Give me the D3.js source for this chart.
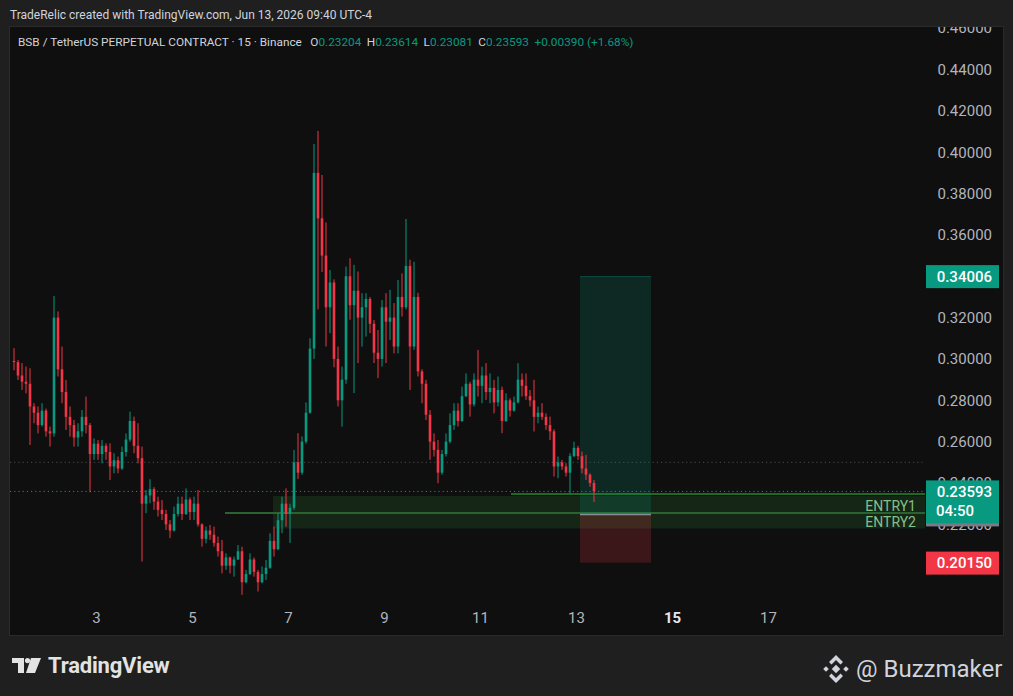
<!DOCTYPE html>
<html>
<head>
<meta charset="utf-8">
<script src="https://cdn.jsdelivr.net/npm/d3@7"></script>
<style>
    html, body { margin: 0; padding: 0; background: #1f1f1f; }
    svg { display: block; font-family: Roboto, "Liberation Sans", sans-serif; }
</style>
</head>
<body>
<svg id="chart" width="1013" height="696"></svg>
<script>
// 2 hour candles, Jun 1 06:00 -> Jun 13 08:00
const opens = [
    0.2990, 0.2985, 0.2920, 0.2890, 0.2880, 0.2770, 0.2740, 0.2680, 0.2750, 0.2650,
    0.2640, 0.3200, 0.2950, 0.2840, 0.2720, 0.2680, 0.2620, 0.2650, 0.2720, 0.2680,
    0.2540, 0.2590, 0.2540, 0.2580, 0.2550, 0.2480, 0.2510, 0.2470, 0.2550, 0.2610,
    0.2700, 0.2580, 0.2520, 0.2300, 0.2340, 0.2370, 0.2310, 0.2270, 0.2250, 0.2200,
    0.2170, 0.2250, 0.2300, 0.2250, 0.2320, 0.2260, 0.2300, 0.2200, 0.2130, 0.2170,
    0.2150, 0.2110, 0.2070, 0.2000, 0.2040, 0.2000, 0.2030, 0.2070, 0.1920, 0.1960,
    0.2030, 0.1970, 0.1920, 0.1960, 0.1990, 0.2120, 0.2080, 0.2220, 0.2300, 0.2250,
    0.2280, 0.2500, 0.2450, 0.2600, 0.2740, 0.3050, 0.3900, 0.3680, 0.3500, 0.3250,
    0.3370, 0.3000, 0.2800, 0.2900, 0.3400, 0.3260, 0.3330, 0.3200, 0.3250, 0.3290,
    0.3170, 0.3030, 0.3000, 0.3250, 0.3180, 0.3200, 0.3060, 0.3300, 0.3250, 0.3450,
    0.3060, 0.3300, 0.2940, 0.2880, 0.2730, 0.2600, 0.2560, 0.2450, 0.2540, 0.2600,
    0.2680, 0.2750, 0.2700, 0.2820, 0.2880, 0.2780, 0.2900, 0.2870, 0.2920, 0.2840,
    0.2860, 0.2790, 0.2850, 0.2700, 0.2800, 0.2750, 0.2790, 0.2900, 0.2870, 0.2820,
    0.2800, 0.2720, 0.2740, 0.2720, 0.2680, 0.2650, 0.2480, 0.2500, 0.2480, 0.2450,
    0.2530, 0.2570, 0.2530, 0.2470, 0.2440, 0.2400
]
const highs = [
    0.3052, 0.2995, 0.2980, 0.2963, 0.2955, 0.2786, 0.2770, 0.2786, 0.2760, 0.2673,
    0.3305, 0.3230, 0.3060, 0.2898, 0.2770, 0.2705, 0.2689, 0.2753, 0.2818, 0.2690,
    0.2616, 0.2608, 0.2608, 0.2592, 0.2592, 0.2544, 0.2528, 0.2576, 0.2640, 0.2745,
    0.2721, 0.2689, 0.2576, 0.2366, 0.2418, 0.2380, 0.2334, 0.2318, 0.2270, 0.2221,
    0.2286, 0.2334, 0.2334, 0.2374, 0.2330, 0.2334, 0.2366, 0.2205, 0.2189, 0.2197,
    0.2189, 0.2141, 0.2125, 0.2060, 0.2044, 0.2044, 0.2100, 0.2092, 0.1980, 0.2060,
    0.2040, 0.1980, 0.1996, 0.2028, 0.2157, 0.2189, 0.2254, 0.2334, 0.2374, 0.2300,
    0.2560, 0.2641, 0.2625, 0.2790, 0.3100, 0.4040, 0.4103, 0.3890, 0.3660, 0.3430,
    0.3385, 0.3060, 0.2963, 0.3447, 0.3487, 0.3455, 0.3423, 0.3318, 0.3318, 0.3300,
    0.3188, 0.3140, 0.3285, 0.3318, 0.3334, 0.3270, 0.3382, 0.3414, 0.3677, 0.3480,
    0.3470, 0.3320, 0.2950, 0.2899, 0.2753, 0.2640, 0.2608, 0.2560, 0.2640, 0.2737,
    0.2786, 0.2786, 0.2866, 0.2930, 0.2890, 0.2930, 0.3044, 0.2963, 0.2980, 0.2930,
    0.2899, 0.2915, 0.2866, 0.2834, 0.2810, 0.2818, 0.2980, 0.2930, 0.2930, 0.2850,
    0.2899, 0.2770, 0.2786, 0.2737, 0.2721, 0.2660, 0.2528, 0.2512, 0.2496, 0.2544,
    0.2600, 0.2580, 0.2552, 0.2536, 0.2447, 0.2415
]
const lows = [
    0.2945, 0.2898, 0.2850, 0.2834, 0.2584, 0.2689, 0.2640, 0.2673, 0.2624, 0.2576,
    0.2624, 0.2915, 0.2786, 0.2656, 0.2624, 0.2576, 0.2576, 0.2624, 0.2640, 0.2355,
    0.2512, 0.2512, 0.2495, 0.2512, 0.2415, 0.2447, 0.2447, 0.2463, 0.2528, 0.2600,
    0.2544, 0.2495, 0.2020, 0.2254, 0.2302, 0.2270, 0.2238, 0.2221, 0.2173, 0.2133,
    0.2165, 0.2238, 0.2221, 0.2245, 0.2221, 0.2221, 0.2189, 0.2092, 0.2108, 0.2125,
    0.2092, 0.2044, 0.1963, 0.1980, 0.1963, 0.1947, 0.2028, 0.1859, 0.1915, 0.1955,
    0.1947, 0.1875, 0.1915, 0.1931, 0.1985, 0.2044, 0.2075, 0.2157, 0.2189, 0.2110,
    0.2270, 0.2420, 0.2440, 0.2590, 0.2735, 0.3000, 0.3240, 0.3420, 0.3060, 0.3125,
    0.2960, 0.2770, 0.2673, 0.2880, 0.3190, 0.2835, 0.2980, 0.3060, 0.3108, 0.3125,
    0.2980, 0.2907, 0.2963, 0.2980, 0.3092, 0.3027, 0.3027, 0.3205, 0.3240, 0.2850,
    0.3044, 0.2915, 0.2786, 0.2705, 0.2512, 0.2528, 0.2399, 0.2440, 0.2528, 0.2592,
    0.2657, 0.2673, 0.2695, 0.2815, 0.2721, 0.2770, 0.2818, 0.2786, 0.2802, 0.2786,
    0.2737, 0.2770, 0.2641, 0.2695, 0.2721, 0.2745, 0.2785, 0.2818, 0.2802, 0.2770,
    0.2649, 0.2689, 0.2705, 0.2657, 0.2608, 0.2431, 0.2423, 0.2463, 0.2431, 0.2350,
    0.2525, 0.2512, 0.2447, 0.2415, 0.2382, 0.2308
]
const closes = [
    0.2985, 0.2920, 0.2890, 0.2880, 0.2770, 0.2740, 0.2680, 0.2750, 0.2650, 0.2640,
    0.3200, 0.2950, 0.2840, 0.2720, 0.2680, 0.2620, 0.2650, 0.2720, 0.2680, 0.2540,
    0.2590, 0.2540, 0.2580, 0.2550, 0.2480, 0.2510, 0.2470, 0.2550, 0.2610, 0.2700,
    0.2580, 0.2520, 0.2300, 0.2340, 0.2370, 0.2310, 0.2270, 0.2250, 0.2200, 0.2170,
    0.2250, 0.2300, 0.2250, 0.2320, 0.2260, 0.2300, 0.2200, 0.2130, 0.2170, 0.2150,
    0.2110, 0.2070, 0.2000, 0.2040, 0.2000, 0.2030, 0.2070, 0.1920, 0.1960, 0.2030,
    0.1970, 0.1920, 0.1960, 0.1990, 0.2120, 0.2080, 0.2220, 0.2300, 0.2250, 0.2280,
    0.2500, 0.2450, 0.2600, 0.2740, 0.3050, 0.3900, 0.3680, 0.3500, 0.3250, 0.3370,
    0.3000, 0.2800, 0.2900, 0.3400, 0.3260, 0.3330, 0.3200, 0.3250, 0.3290, 0.3170,
    0.3030, 0.3000, 0.3250, 0.3180, 0.3200, 0.3060, 0.3300, 0.3250, 0.3450, 0.3060,
    0.3300, 0.2940, 0.2880, 0.2730, 0.2600, 0.2560, 0.2450, 0.2540, 0.2600, 0.2680,
    0.2750, 0.2700, 0.2820, 0.2880, 0.2780, 0.2900, 0.2870, 0.2920, 0.2840, 0.2860,
    0.2790, 0.2850, 0.2700, 0.2800, 0.2750, 0.2790, 0.2900, 0.2870, 0.2820, 0.2800,
    0.2720, 0.2740, 0.2720, 0.2680, 0.2650, 0.2480, 0.2500, 0.2480, 0.2450, 0.2530,
    0.2570, 0.2530, 0.2470, 0.2440, 0.2400, 0.23593
]

const firstCandle = Date.UTC(2026, 5, 1, 7)   // centre of first 2h bar
const candleMs = 2 * 3600 * 1000

const dayTicks = [3, 5, 7, 9, 11, 13, 15, 17]
const boldDay = 15
const priceTicks = [0.22, 0.24, 0.26, 0.28, 0.30, 0.32, 0.34, 0.36, 0.38, 0.40, 0.42, 0.44, 0.46]

const lastPrice = 0.23593
const countdown = '04:50'
const dottedLevel = 0.25

const position = {
    start: Date.UTC(2026, 5, 13, 2),
    end: Date.UTC(2026, 5, 14, 13, 30),
    entry: 0.2248,
    target: 0.34006,
    stop: 0.20150
}

const zoneNames = ['ENTRY1', 'ENTRY2']
const zoneTops = [0.2337, 0.2255]
const zoneBottoms = [0.2255, 0.2180]
const zoneStart = Date.UTC(2026, 5, 6, 16, 30)

const linePrices = [0.2255, 0.2347]
const lineStarts = [Date.UTC(2026, 5, 5, 16, 30), Date.UTC(2026, 5, 11, 15, 30)]

const colours = {
    page: '#1f1f1f',
    panel: '#0f0f0f',
    border: '#2a2a2a',
    text: '#d1d4dc',
    axisText: '#b2b5be',
    up: '#089981',
    down: '#f23645',
    zone: 'rgba(46, 125, 50, 0.22)',
    zoneText: '#86bf88',
    entryLine: '#2a632d',
    brightLine: '#1f6a22'
}

const svg = d3.select('#chart')
const panel = { left: 10, top: 27, right: 1003, bottom: 635 }
const plotRight = 925

const x = d3.scaleUtc()
    .domain([Date.UTC(2026, 5, 1), Date.UTC(2026, 5, 20)])
    .range([0, 912])

const y = d3.scaleLinear()
    .domain([0.20, 0.46])
    .range([565.7, 28.15])

// backgrounds
svg.append('rect').attr('width', 1013).attr('height', 696).attr('fill', colours.page)
svg.append('rect')
    .attr('x', panel.left - 0.5).attr('y', panel.top - 0.5)
    .attr('width', panel.right - panel.left + 1).attr('height', panel.bottom - panel.top + 1)
    .attr('fill', colours.panel)
    .attr('stroke', colours.border)

const defs = svg.append('defs')
defs.append('clipPath').attr('id', 'plot')
    .append('rect')
    .attr('x', panel.left).attr('y', panel.top)
    .attr('width', plotRight - panel.left).attr('height', 600 - panel.top)
defs.append('clipPath').attr('id', 'scale')
    .append('rect')
    .attr('x', plotRight).attr('y', panel.top)
    .attr('width', panel.right - plotRight).attr('height', 600 - panel.top)

const plot = svg.append('g').attr('clip-path', 'url(#plot)')

// dotted level
plot.append('line')
    .attr('x1', panel.left).attr('x2', plotRight)
    .attr('y1', y(dottedLevel)).attr('y2', y(dottedLevel))
    .attr('stroke', '#4a4a4a')
    .attr('stroke-dasharray', '1.2,3')

// entry zones
zoneNames.forEach((name, i) => {
    plot.append('rect')
        .attr('x', x(zoneStart))
        .attr('y', y(zoneTops[i]))
        .attr('width', plotRight - x(zoneStart))
        .attr('height', y(zoneBottoms[i]) - y(zoneTops[i]))
        .attr('fill', colours.zone)
})

linePrices.forEach((price, i) => {
    plot.append('line')
        .attr('x1', x(lineStarts[i])).attr('x2', plotRight)
        .attr('y1', y(price)).attr('y2', y(price))
        .attr('stroke', i === 0 ? colours.entryLine : colours.brightLine)
        .attr('stroke-width', 2)
})

// long position tool
const px0 = x(position.start)
const px1 = x(position.end)
plot.append('rect')
    .attr('x', px0).attr('y', y(position.target))
    .attr('width', px1 - px0).attr('height', y(position.entry) - y(position.target))
    .attr('fill', 'rgba(8, 153, 129, 0.19)')
plot.append('line')
    .attr('x1', px0).attr('x2', px1)
    .attr('y1', y(position.target) + 0.5).attr('y2', y(position.target) + 0.5)
    .attr('stroke', 'rgba(8, 153, 129, 0.35)')
plot.append('rect')
    .attr('x', px0).attr('y', y(position.entry))
    .attr('width', px1 - px0).attr('height', y(position.stop) - y(position.entry))
    .attr('fill', 'rgba(242, 54, 69, 0.2)')
plot.append('line')
    .attr('x1', px0).attr('x2', px1)
    .attr('y1', y(position.entry)).attr('y2', y(position.entry))
    .attr('stroke', '#8a8d96')
    .attr('stroke-width', 1.5)

// candles
const candles = closes.map((close, i) => ({
    time: new Date(firstCandle + i * candleMs),
    open: opens[i],
    high: highs[i],
    low: lows[i],
    close
}))
const step = x(new Date(firstCandle + candleMs)) - x(new Date(firstCandle))
const bodyWidth = step * 0.65
const candleColour = d => d.close >= d.open ? colours.up : colours.down

const bars = plot.append('g').selectAll('g')
    .data(candles)
    .join('g')

bars.append('line')
    .attr('x1', d => x(d.time)).attr('x2', d => x(d.time))
    .attr('y1', d => y(d.high)).attr('y2', d => y(d.low))
    .attr('stroke', candleColour)
    .attr('stroke-width', 1)

bars.append('rect')
    .attr('x', d => x(d.time) - bodyWidth / 2)
    .attr('y', d => y(Math.max(d.open, d.close)))
    .attr('width', bodyWidth)
    .attr('height', d => Math.max(1, Math.abs(y(d.open) - y(d.close))))
    .attr('fill', candleColour)

// current price line
plot.append('line')
    .attr('x1', panel.left).attr('x2', plotRight)
    .attr('y1', y(lastPrice)).attr('y2', y(lastPrice))
    .attr('stroke', colours.up)
    .attr('stroke-dasharray', '1.2,3')

// zone labels, sitting low in each band
zoneNames.forEach((name, i) => {
    plot.append('text')
        .attr('x', 916)
        .attr('y', (y(zoneTops[i]) + y(zoneBottoms[i])) / 2 + 6)
        .attr('text-anchor', 'end')
        .attr('fill', colours.zoneText)
        .style('font-size', '14px')
        .text(name)
})

// price scale
const scale = svg.append('g').attr('clip-path', 'url(#scale)')
scale.append('g')
    .attr('transform', 'translate(992,0)')
    .call(d3.axisRight(y).tickValues(priceTicks).tickFormat(d3.format('.5f')).tickSize(0).tickPadding(0))
    .call(g => g.select('.domain').remove())
    .call(g => g.selectAll('text')
        .attr('text-anchor', 'end')
        .attr('fill', colours.axisText)
        .style('font-size', '15px')
        .style('font-family', 'Roboto, sans-serif'))

const priceBox = (fill, top, h) => {
    scale.append('rect')
        .attr('x', 926).attr('y', top)
        .attr('width', 73).attr('height', h)
        .attr('fill', fill)
}
const boxText = (label, ty, anchor, tx) => {
    scale.append('text')
        .attr('x', tx).attr('y', ty)
        .attr('text-anchor', anchor)
        .attr('fill', '#ffffff')
        .style('font-size', '15px')
        .style('font-weight', 500)
        .text(label)
}

priceBox(colours.up, y(position.target) - 11, 23)
boxText(d3.format('.5f')(position.target), y(position.target) + 5.5, 'end', 992)

scale.append('rect')
    .attr('x', 926).attr('y', y(lastPrice) + 24)
    .attr('width', 73).attr('height', 11)
    .attr('fill', '#787b86')
priceBox(colours.up, y(lastPrice) - 11, 43)
boxText(d3.format('.5f')(lastPrice), y(lastPrice) + 5.5, 'end', 992)
boxText(countdown, y(lastPrice) + 24.5, 'start', 936)

priceBox(colours.down, y(position.stop) - 11, 23)
boxText(d3.format('.5f')(position.stop), y(position.stop) + 5.5, 'end', 992)

// time scale
svg.append('g')
    .attr('transform', 'translate(0,609)')
    .call(d3.axisBottom(x)
        .tickValues(dayTicks.map(d => new Date(Date.UTC(2026, 5, d))))
        .tickFormat(d3.utcFormat('%-d'))
        .tickSize(0))
    .call(g => g.select('.domain').remove())
    .call(g => g.selectAll('text')
        .attr('fill', d => d.getUTCDate() === boldDay ? '#e6e8ee' : colours.axisText)
        .style('font-weight', d => d.getUTCDate() === boldDay ? 'bold' : 'normal')
        .style('font-size', '15px')
        .style('font-family', 'Roboto, sans-serif'))

// header
svg.append('text')
    .attr('x', 10).attr('y', 19)
    .attr('fill', colours.text)
    .style('font-size', '12px')
    .text('TradeRelic created with TradingView.com, Jun 13, 2026 09:40 UTC-4')

const legend = svg.append('text')
    .attr('x', 18).attr('y', 46)
    .attr('fill', colours.text)
    .style('font-size', '11.8px')
legend.append('tspan').text('BSB / TetherUS PERPETUAL CONTRACT · 15 · Binance ')
const ohlc = [['O', '0.23204'], ['H', '0.23614'], ['L', '0.23081'], ['C', '0.23593']]
ohlc.forEach(([k, v]) => {
    legend.append('tspan').attr('dx', 5.5).text(k)
    legend.append('tspan').attr('fill', colours.up).text(v)
})
legend.append('tspan').attr('dx', 5.5).attr('fill', colours.up).text('+0.00390 (+1.68%)')

// footer: TradingView mark
const tv = svg.append('g').attr('fill', '#e3e3e3')
tv.append('path').attr('d', 'M12,658 H24 V673 H18 V663 H12 Z')
tv.append('circle').attr('cx', 27.5).attr('cy', 660.6).attr('r', 2.6)
tv.append('path').attr('d', 'M31,658 H41 L35,673 H26 Z')
tv.append('text')
    .attr('x', 48).attr('y', 673)
    .style('font-size', '22px')
    .style('font-weight', 'bold')
    .style('letter-spacing', '-0.2px')
    .text('TradingView')

// footer: Buzzmaker with BNB-like mark
const bz = svg.append('g').attr('fill', colours.text)
const cx = 836, cy = 669
bz.append('rect').attr('x', -3).attr('y', -3).attr('width', 6).attr('height', 6)
    .attr('transform', `translate(${cx},${cy}) rotate(45)`)
;[[-10, 0], [10, 0]].forEach(([dx, dy]) => {
    bz.append('rect').attr('x', -2).attr('y', -2).attr('width', 4).attr('height', 4)
        .attr('transform', `translate(${cx + dx},${cy + dy}) rotate(45)`)
})
bz.append('path').attr('d', `M${cx},${cy - 14} L${cx + 7},${cy - 7} L${cx + 4.5},${cy - 4.5} L${cx},${cy - 9} L${cx - 4.5},${cy - 4.5} L${cx - 7},${cy - 7} Z`)
bz.append('path').attr('d', `M${cx},${cy + 14} L${cx + 7},${cy + 7} L${cx + 4.5},${cy + 4.5} L${cx},${cy + 9} L${cx - 4.5},${cy + 4.5} L${cx - 7},${cy + 7} Z`)
bz.append('text')
    .attr('x', 856).attr('y', 677)
    .style('font-size', '24px')
    .text('@ Buzzmaker')
</script>
</body>
</html>
